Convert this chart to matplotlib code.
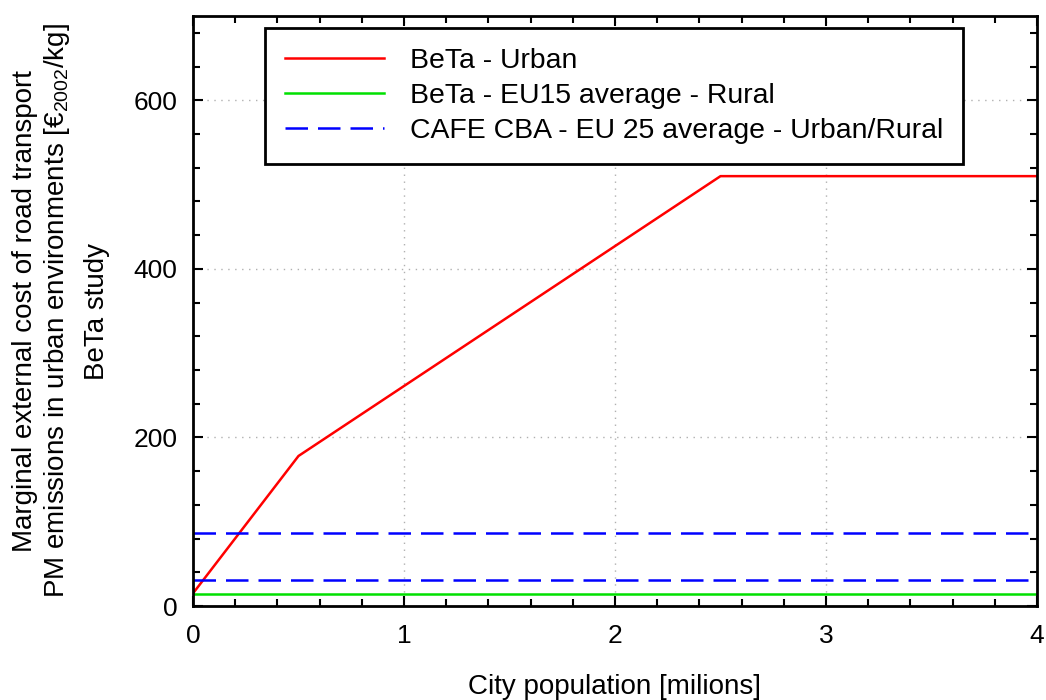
import numpy as np
import matplotlib.pyplot as plt
from matplotlib.ticker import MultipleLocator

plt.rcParams['font.family'] = ['Liberation Sans', 'DejaVu Sans']
plt.rcParams['mathtext.fontset'] = 'custom'
plt.rcParams['mathtext.rm'] = 'Liberation Sans'
plt.rcParams['mathtext.it'] = 'Liberation Sans'

# BeTa urban cost vs city size (breakpoints)
urban_pop = [0, 0.5, 2.5, 4]
urban_cost = [15, 178, 510, 510]

rural_cost = 14          # BeTa EU15 rural
cafe_costs = [87, 31]    # CAFE CBA EU25 urban / rural

fig = plt.figure(figsize=(10.46, 7), dpi=100)
ax = fig.add_axes([193/1046, 1-606/700, 844/1046, 590/700])

ax.plot(urban_pop, urban_cost, color='#ff0000', lw=1.8, label='BeTa - Urban')
ax.plot([0, 4], [rural_cost, rural_cost], color='#00e000', lw=1.8,
        label='BeTa - EU15 average - Rural')
for i, c in enumerate(cafe_costs):
    ax.plot([0, 4], [c, c], color='#0000ff', lw=1.8, dashes=(9, 4),
            label='CAFE CBA - EU 25 average - Urban/Rural' if i == 0 else None)

ax.set_xlim(0, 4)
ax.set_ylim(0, 700)
ax.xaxis.set_major_locator(MultipleLocator(1))
ax.xaxis.set_minor_locator(MultipleLocator(0.2))
ax.yaxis.set_major_locator(MultipleLocator(200))
ax.yaxis.set_minor_locator(MultipleLocator(40))
ax.tick_params(which='both', direction='in', top=True, right=True,
               labelsize=19, width=1.5)
ax.tick_params(which='major', length=7)
ax.tick_params(which='minor', length=5)
ax.tick_params(axis='x', pad=13)
ax.tick_params(axis='y', pad=11)
ax.grid(True, which='major', color='#b0b0b0', ls=(0, (1, 4)), lw=1)
for s in ax.spines.values():
    s.set_linewidth(2)

ax.set_xlabel('City population [milions]', fontsize=20, labelpad=19)

# y label: two lines + study name set a bit further out
ycen = 1 - 311/700
fig.text(25/1046, ycen, 'Marginal external cost of road transport',
         rotation=90, ha='center', va='center', fontsize=20)
fig.text(57/1046, ycen, 'PM emissions in urban environments [€$_{2002}$/kg]',
         rotation=90, ha='center', va='center', fontsize=20)
fig.text(97/1046, ycen, 'BeTa study',
         rotation=90, ha='center', va='center', fontsize=20)

leg = ax.legend(loc='upper left', bbox_to_anchor=(72/844, 578/590), fontsize=20.4,
                handlelength=3.5, handletextpad=0.9, borderpad=0.7,
                labelspacing=0.32, borderaxespad=0, fancybox=False,
                framealpha=1, edgecolor='black')
leg.get_frame().set_linewidth(2)

fig.savefig('out.png', dpi=100)
